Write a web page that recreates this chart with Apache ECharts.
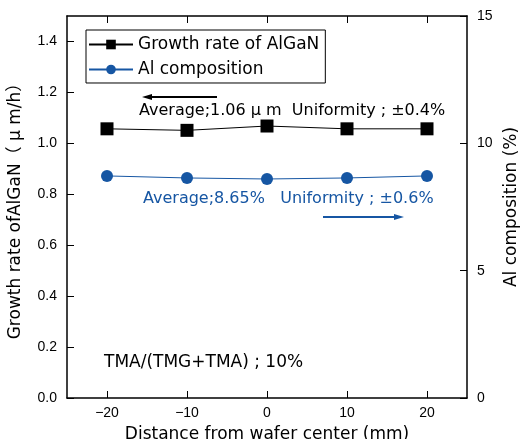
<!DOCTYPE html>
<html>
<head>
<meta charset="utf-8">
<title>AlGaN uniformity</title>
<script src="https://cdn.jsdelivr.net/npm/echarts@6/dist/echarts.min.js"></script>
<style>
html, body { margin: 0; padding: 0; background: #fff; }
#chart { width: 525px; height: 439px; }
</style>
</head>
<body>
<div id="chart"></div>
<script>
var positions = [-20, -10, 0, 10, 20];
var growthRate = [1.057, 1.051, 1.068, 1.057, 1.057];
var alComposition = [8.72, 8.64, 8.60, 8.64, 8.72];
var xTicks = [-20, -10, 0, 10, 20];
var leftTicks = [0, 0.2, 0.4, 0.6, 0.8, 1.0, 1.2, 1.4];
var rightTicks = [0, 5, 10, 15];

var blue = '#1656a3';
var font = 'Liberation Sans, Arial, sans-serif';
var wide = '"DejaVu Sans", "Noto Sans CJK JP", sans-serif';

function pairs(xs, ys)
{
	var out = [];
	for (var i = 0; i < xs.length; ++i)
		out.push([xs[i], ys[i]]);
	return out;
}

function arrow(x1, x2, y, color)
{
	var dir = x2 > x1 ? 1 : -1;
	return [
		{ type: 'line', shape: { x1: x1, y1: y, x2: x2 - dir * 8, y2: y }, style: { stroke: color, lineWidth: 2 } },
		{ type: 'polygon', shape: { points: [[x2, y], [x2 - dir * 10, y - 3], [x2 - dir * 10, y + 3]] }, style: { fill: color } }
	];
}

var chart = echarts.init(document.getElementById('chart'));

var axisLine = { show: true, onZero: false, lineStyle: { color: '#000', width: 1.5 } };
var tick = { show: true, inside: true, length: 7, lineStyle: { color: '#000', width: 1 } };

var option = {
	animation: false,
	grid: { left: 67, right: 58, top: 16, bottom: 41, outerBoundsMode: 'none', containLabel: false },
	legend: {
		left: 86, top: 30,
		orient: 'vertical',
		borderColor: '#000', borderWidth: 1,
		backgroundColor: '#fff',
		padding: [6, 6, 5, 2],
		itemGap: 8,
		itemWidth: 44, itemHeight: 12,
		textStyle: { fontFamily: wide, fontSize: 17, color: '#000' },
		data: ['Growth rate of AlGaN', 'Al composition']
	},
	xAxis: [{
		type: 'value', min: -25, max: 25, position: 'bottom',
		name: 'Distance from wafer center (mm)', nameLocation: 'middle', nameGap: 28,
		nameTextStyle: { fontFamily: wide, fontSize: 17, color: '#000' },
		axisLine: axisLine,
		axisTick: Object.assign({ customValues: xTicks }, tick),
		axisLabel: { customValues: xTicks, fontFamily: font, fontSize: 14, color: '#000', margin: 8,
			formatter: function (v) { return v < 0 ? '\u2212' + (-v) : String(v); } },
		splitLine: { show: false }
	}, {
		type: 'value', min: -25, max: 25, position: 'top',
		axisLine: axisLine,
		axisTick: Object.assign({ customValues: xTicks }, tick),
		axisLabel: { show: false },
		splitLine: { show: false }
	}],
	yAxis: [{
		type: 'value', min: 0, max: 1.5, position: 'left',
		name: 'Growth rate ofAlGaN\uff08 \u03bc m/h\uff09', nameLocation: 'middle', nameGap: 43,
		nameTextStyle: { fontFamily: wide, fontSize: 17, color: '#000' },
		axisLine: axisLine,
		axisTick: Object.assign({ customValues: leftTicks }, tick),
		axisLabel: { customValues: leftTicks, fontFamily: font, fontSize: 14, color: '#000', margin: 10,
			formatter: function (v) { return v.toFixed(1); } },
		splitLine: { show: false }
	}, {
		type: 'value', min: 0, max: 15, position: 'right',
		name: 'Al composition (%)', nameLocation: 'middle', nameGap: 32,
		nameTextStyle: { fontFamily: wide, fontSize: 17, color: '#000' },
		axisLine: axisLine,
		axisTick: Object.assign({ customValues: rightTicks }, tick),
		axisLabel: { customValues: rightTicks, fontFamily: font, fontSize: 14, color: '#000', margin: 10 },
		splitLine: { show: false }
	}],
	series: [{
		name: 'Growth rate of AlGaN',
		type: 'line',
		xAxisIndex: 0, yAxisIndex: 0,
		symbol: 'rect', symbolSize: 13,
		itemStyle: { color: '#000' },
		lineStyle: { color: '#000', width: 1 },
		data: pairs(positions, growthRate)
	}, {
		name: 'Al composition',
		type: 'line',
		xAxisIndex: 0, yAxisIndex: 1,
		symbol: 'circle', symbolSize: 12,
		itemStyle: { color: blue },
		lineStyle: { color: blue, width: 1 },
		data: pairs(positions, alComposition)
	}],
	graphic: [].concat(
		arrow(217, 142, 97, '#000'),
		arrow(323, 404, 217, blue),
		[{
			type: 'text', left: 139, top: 103,
			style: { text: 'Average;1.06 \u03bc m  Uniformity ; \u00b10.4%', font: '16px ' + wide, fill: '#000' }
		}, {
			type: 'text', left: 143, top: 191,
			style: { text: 'Average;8.65%   Uniformity ; \u00b10.6%', font: '16px ' + wide, fill: blue }
		}, {
			type: 'text', left: 104, top: 354,
			style: { text: 'TMA/(TMG+TMA) ; 10%', font: '17px ' + wide, fill: '#000' }
		}]
	)
};

chart.setOption(option);
</script>
</body>
</html>
